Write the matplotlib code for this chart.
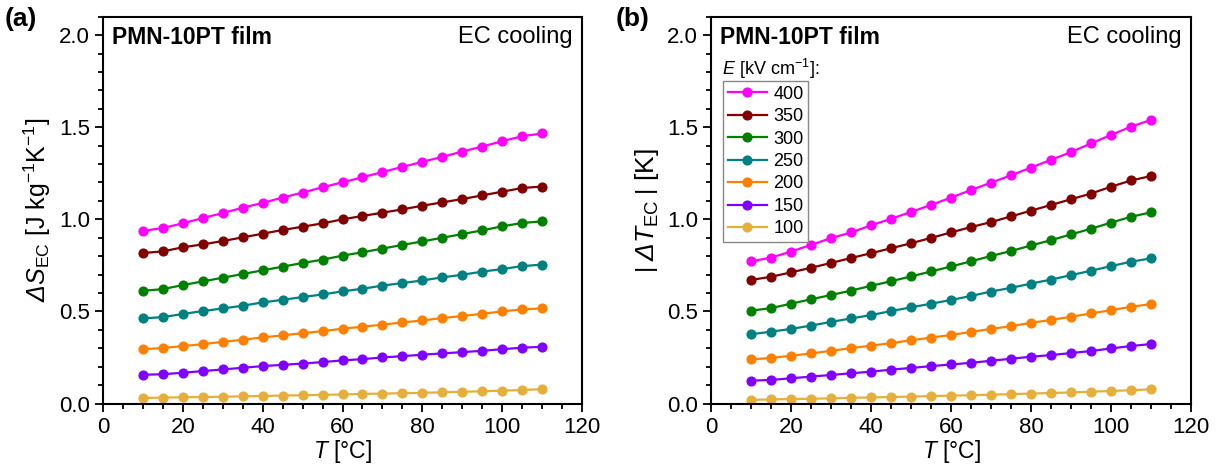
import numpy as np
import matplotlib
matplotlib.use('Agg')
import matplotlib.pyplot as plt
from matplotlib.ticker import MultipleLocator

plt.rcParams['font.family'] = ['Liberation Sans', 'DejaVu Sans']
plt.rcParams['mathtext.fontset'] = 'custom'
plt.rcParams['mathtext.rm'] = 'Liberation Sans'
plt.rcParams['mathtext.it'] = 'Liberation Sans:italic'
plt.rcParams['mathtext.bf'] = 'Liberation Sans:bold'
# italic face also under \mathsf so the capital Delta gets slanted
plt.rcParams['mathtext.sf'] = 'Liberation Sans:italic'

# temperature [°C]
T = [10, 15, 20, 25, 30, 35, 40, 45, 50, 55, 60, 65, 70, 75, 80, 85, 90, 95, 100, 105, 110]
fields = ['400', '350', '300', '250', '200', '150', '100']
colors = ['#FF00FF', '#800000', '#008000', '#008080', '#FF8000', '#8000FF', '#E6AF3C']

# (a) entropy change dS_EC [J kg-1 K-1]
dS = {
    '400': [0.937, 0.953, 0.978, 1.007, 1.034, 1.063, 1.089, 1.118, 1.145, 1.174, 1.201,
            1.228, 1.257, 1.284, 1.312, 1.339, 1.368, 1.395, 1.424, 1.451, 1.466],
    '350': [0.817, 0.826, 0.848, 0.864, 0.882, 0.902, 0.922, 0.942, 0.960, 0.978, 1.000,
            1.018, 1.036, 1.054, 1.074, 1.092, 1.110, 1.130, 1.150, 1.170, 1.178],
    '300': [0.612, 0.621, 0.643, 0.663, 0.683, 0.703, 0.723, 0.743, 0.763, 0.781, 0.803,
            0.821, 0.841, 0.861, 0.880, 0.900, 0.920, 0.940, 0.962, 0.980, 0.989],
    '250': [0.462, 0.469, 0.486, 0.502, 0.516, 0.531, 0.549, 0.563, 0.578, 0.592, 0.609,
            0.623, 0.640, 0.654, 0.668, 0.685, 0.699, 0.716, 0.730, 0.746, 0.754],
    '200': [0.295, 0.301, 0.312, 0.322, 0.335, 0.346, 0.359, 0.370, 0.382, 0.393, 0.406,
            0.417, 0.428, 0.440, 0.451, 0.464, 0.475, 0.487, 0.500, 0.511, 0.516],
    '150': [0.156, 0.159, 0.167, 0.176, 0.185, 0.194, 0.203, 0.210, 0.217, 0.225, 0.234,
            0.241, 0.250, 0.257, 0.265, 0.272, 0.279, 0.286, 0.295, 0.303, 0.308],
    '100': [0.030, 0.032, 0.034, 0.035, 0.037, 0.039, 0.041, 0.043, 0.045, 0.047, 0.049,
            0.052, 0.054, 0.056, 0.058, 0.061, 0.064, 0.066, 0.070, 0.073, 0.078],
}

# (b) temperature change |dT_EC| [K]
dT = {
    '400': [0.772, 0.792, 0.825, 0.861, 0.898, 0.929, 0.967, 1.003, 1.040, 1.078, 1.118,
            1.159, 1.199, 1.239, 1.281, 1.323, 1.365, 1.412, 1.458, 1.503, 1.540],
    '350': [0.671, 0.688, 0.712, 0.737, 0.763, 0.790, 0.816, 0.843, 0.870, 0.899, 0.929,
            0.958, 0.985, 1.016, 1.047, 1.078, 1.109, 1.140, 1.177, 1.211, 1.235],
    '300': [0.504, 0.518, 0.542, 0.566, 0.589, 0.613, 0.639, 0.664, 0.690, 0.717, 0.744,
            0.772, 0.801, 0.828, 0.858, 0.887, 0.918, 0.949, 0.982, 1.014, 1.038],
    '250': [0.376, 0.390, 0.405, 0.423, 0.443, 0.462, 0.480, 0.502, 0.522, 0.542, 0.562,
            0.584, 0.608, 0.628, 0.651, 0.673, 0.697, 0.721, 0.746, 0.770, 0.788],
    '200': [0.239, 0.248, 0.259, 0.272, 0.286, 0.301, 0.314, 0.328, 0.343, 0.358, 0.372,
            0.389, 0.405, 0.420, 0.438, 0.454, 0.471, 0.489, 0.507, 0.525, 0.540],
    '150': [0.124, 0.128, 0.137, 0.146, 0.155, 0.164, 0.173, 0.184, 0.193, 0.203, 0.212,
            0.221, 0.232, 0.243, 0.254, 0.263, 0.274, 0.285, 0.299, 0.312, 0.323],
    '100': [0.020, 0.022, 0.024, 0.026, 0.028, 0.031, 0.033, 0.035, 0.038, 0.040, 0.043,
            0.045, 0.048, 0.051, 0.054, 0.057, 0.060, 0.064, 0.068, 0.072, 0.077],
}

fig = plt.figure(figsize=(12.23, 4.68), dpi=100)
ax_a = fig.add_axes([0.0842, 0.1378, 0.3917, 0.8265])
ax_b = fig.add_axes([0.5814, 0.1378, 0.3925, 0.8265])


def style_axis(ax):
    ax.set_xlim(0, 120)
    ax.set_ylim(0, 2.1)
    ax.xaxis.set_major_locator(MultipleLocator(20))
    ax.xaxis.set_minor_locator(MultipleLocator(5))
    ax.yaxis.set_major_locator(MultipleLocator(0.5))
    ax.yaxis.set_minor_locator(MultipleLocator(0.1))
    ax.yaxis.set_major_formatter(matplotlib.ticker.FormatStrFormatter('%.1f'))
    ax.tick_params(which='both', direction='out', top=False, right=False,
                   labelsize=16, width=1.3, color='black')
    ax.tick_params(which='major', length=6)
    ax.tick_params(which='minor', length=3.5)
    for sp in ax.spines.values():
        sp.set_linewidth(1.5)
    ax.set_xlabel(r'$\mathit{T}$ [°C]', fontsize=16.5, labelpad=0)
    ax.text(0.019, 0.975, 'PMN-10PT film', transform=ax.transAxes, fontsize=16.5,
            fontweight='bold', ha='left', va='top')
    ax.text(0.98, 0.975, 'EC cooling', transform=ax.transAxes, fontsize=17,
            ha='right', va='top')


for ax, data in [(ax_a, dS), (ax_b, dT)]:
    for f, c in zip(fields, colors):
        ax.plot(T, data[f], '-o', color=c, lw=1.6, ms=6.3, label=f)
    style_axis(ax)

ax_a.set_ylabel(r'$\mathsf{ΔS}_{\mathrm{EC}}$ [J kg$^{-1}$K$^{-1}$]', fontsize=18, labelpad=4)
ax_b.set_ylabel(r'$\left|\;\mathsf{ΔT}_{\mathrm{EC}}\;\right|$ [K]', fontsize=19, labelpad=4)

ax_b.text(0.023, 0.895, r'$\mathit{E}$ [kV cm$^{-1}$]:', transform=ax_b.transAxes,
          fontsize=13, ha='left', va='top')
leg = ax_b.legend(loc='upper left', bbox_to_anchor=(0.025, 0.833), fontsize=13,
                  frameon=True, fancybox=False, edgecolor='#888888', framealpha=1,
                  borderpad=0.25, labelspacing=0.3, handlelength=2.2, handletextpad=0.35,
                  borderaxespad=0)
leg.get_frame().set_linewidth(1.0)

fig.text(0.004, 0.985, '(a)', fontsize=19, fontweight='bold', ha='left', va='top')
fig.text(0.503, 0.985, '(b)', fontsize=19, fontweight='bold', ha='left', va='top')

fig.savefig('out.png', dpi=100)
